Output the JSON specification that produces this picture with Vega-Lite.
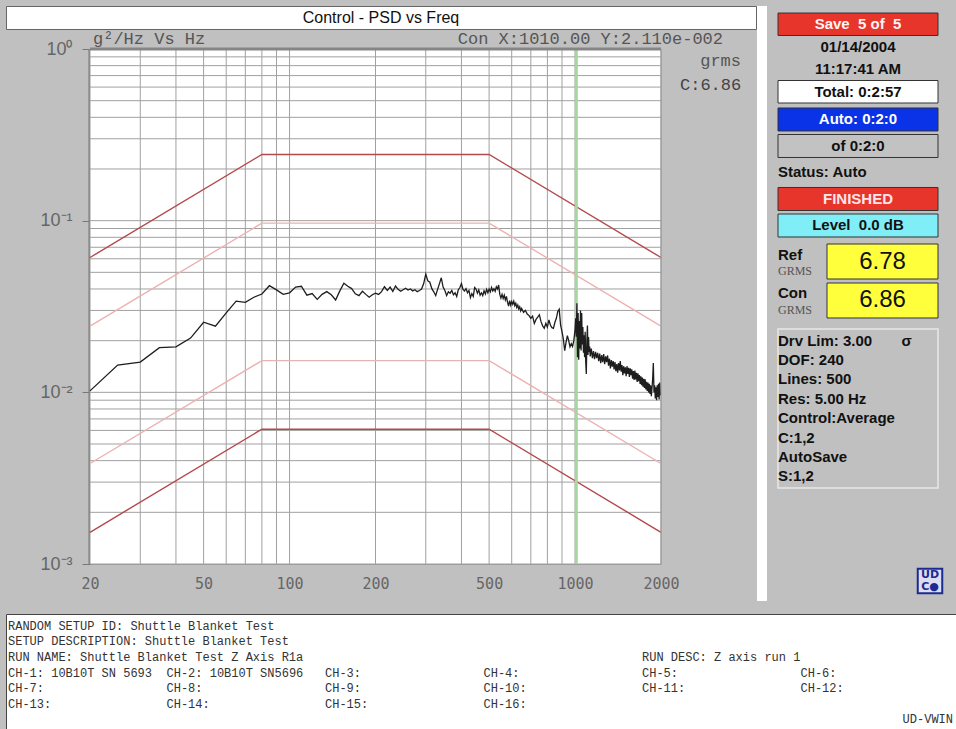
{
  "$schema": "https://vega.github.io/schema/vega-lite/v6.json",
  "background": "#c0c0c0",
  "padding": {"left": 5, "top": 5, "right": 0, "bottom": 0},
  "config": {"view": {"stroke": null}, "font": "Liberation Sans", "concat": {"spacing": 0}},
  "spacing": 12,
  "vconcat": [
    {
      "spacing": 0,
      "hconcat": [
        {
          "spacing": 0,
          "vconcat": [
            {
              "width": 750, "height": 23,
              "view": {"fill": "white", "stroke": "#666666", "strokeWidth": 1},
              "data": {"values": [{"title": "Control - PSD vs Freq"}]},
              "mark": {"type": "text", "font": "Liberation Sans", "fontSize": 16, "color": "#111111"},
              "encoding": {"text": {"field": "title"}}
            },
            {
              "width": 655, "height": 515,
              "view": {"stroke": null},
              "resolve": {"scale": {"color": "independent"}},
              "layer": [
                {
                  "data": {"values": [{}]},
                  "mark": {"type": "rect", "fill": "white"},
                  "encoding": {
                    "x": {"datum": 20}, "x2": {"datum": 2000},
                    "y": {"datum": 0.001}, "y2": {"datum": 1}
                  }
                },
                {
                  "data": {"values": [{"f":20},{"f":30},{"f":40},{"f":50},{"f":60},{"f":70},{"f":80},{"f":90},{"f":100},{"f":200},{"f":300},{"f":400},{"f":500},{"f":600},{"f":700},{"f":800},{"f":900},{"f":1000},{"f":2000}]},
                  "mark": {"type": "rule", "color": "#a0a0a0", "strokeWidth": 1},
                  "encoding": {"x": {"field": "f", "type": "quantitative"}}
                },
                {
                  "data": {"values": [{"psd":0.001},{"psd":0.002},{"psd":0.003},{"psd":0.004},{"psd":0.005},{"psd":0.006},{"psd":0.007},{"psd":0.008},{"psd":0.009},{"psd":0.01},{"psd":0.02},{"psd":0.03},{"psd":0.04},{"psd":0.05},{"psd":0.06},{"psd":0.07},{"psd":0.08},{"psd":0.09},{"psd":0.1},{"psd":0.2},{"psd":0.3},{"psd":0.4},{"psd":0.5},{"psd":0.6},{"psd":0.7},{"psd":0.8},{"psd":0.9}]},
                  "mark": {"type": "rule", "color": "#a0a0a0", "strokeWidth": 1},
                  "encoding": {"y": {"field": "psd", "type": "quantitative"}, "x": {"datum": 20}, "x2": {"datum": 2000}}
                },
                {
                  "data": {"values": [
                    {"limit": "abort high", "f": 20, "psd": 0.0610}, {"limit": "abort high", "f": 80, "psd": 0.243}, {"limit": "abort high", "f": 500, "psd": 0.243}, {"limit": "abort high", "f": 2000, "psd": 0.0610},
                    {"limit": "alarm high", "f": 20, "psd": 0.0243}, {"limit": "alarm high", "f": 80, "psd": 0.0967}, {"limit": "alarm high", "f": 500, "psd": 0.0967}, {"limit": "alarm high", "f": 2000, "psd": 0.0243},
                    {"limit": "alarm low", "f": 20, "psd": 0.00385}, {"limit": "alarm low", "f": 80, "psd": 0.0153}, {"limit": "alarm low", "f": 500, "psd": 0.0153}, {"limit": "alarm low", "f": 2000, "psd": 0.00385},
                    {"limit": "abort low", "f": 20, "psd": 0.00153}, {"limit": "abort low", "f": 80, "psd": 0.0061}, {"limit": "abort low", "f": 500, "psd": 0.0061}, {"limit": "abort low", "f": 2000, "psd": 0.00153}
                  ]},
                  "mark": {"type": "line", "strokeWidth": 1.4},
                  "encoding": {
                    "x": {
                      "field": "f", "type": "quantitative",
                      "scale": {"type": "log", "domain": [20, 2000], "range": [84, 655], "nice": false},
                      "axis": {
                        "title": null,
                        "values": [20, 50, 100, 200, 500, 1000, 2000],
                        "labelExpr": "'' + datum.value",
                        "grid": false,
                        "domain": true, "domainColor": "#9a9a9a", "domainWidth": 1,
                        "ticks": false,
                        "labelFont": "DejaVu Sans Mono", "labelFontSize": 15, "labelColor": "#666666",
                        "labelPadding": 12, "labelOverlap": false, "labelFlush": false
                      }
                    },
                    "y": {
                      "field": "psd", "type": "quantitative",
                      "scale": {"type": "log", "domain": [0.001, 1], "nice": false},
                      "axis": {
                        "title": null,
                        "values": [0.001, 0.01, 0.1, 1],
                        "labelExpr": "datum.value == 1 ? '10⁰' : datum.value == 0.1 ? '10⁻¹' : datum.value == 0.01 ? '10⁻²' : '10⁻³'",
                        "grid": false,
                        "offset": -84,
                        "domain": true, "domainColor": "#777777", "domainWidth": 4,
                        "ticks": true, "tickSize": 8, "tickColor": "#777777",
                        "labelFont": "Liberation Sans", "labelFontSize": 18, "labelColor": "#666666",
                        "labelPadding": 10, "labelOverlap": false,
                        "minExtent": 0, "maxExtent": 84
                      }
                    },
                    "color": {
                      "field": "limit", "type": "nominal",
                      "scale": {"domain": ["abort high", "abort low", "alarm high", "alarm low"], "range": ["#b5484a", "#b5484a", "#e9b3b3", "#e9b3b3"]},
                      "legend": null
                    }
                  }
                },
                {
                  "data": {"values": [{"f": 1010}]},
                  "mark": {"type": "rule", "color": "#a6d79e", "strokeWidth": 3},
                  "encoding": {"x": {"field": "f", "type": "quantitative"}}
                },
                {
                  "data": {"values": [
                    {"f":20,"psd":0.0102},{"f":25,"psd":0.0144},{"f":30,"psd":0.0150},{"f":35,"psd":0.0182},{"f":40,"psd":0.0184},{"f":45,"psd":0.0207},{"f":50,"psd":0.0256},{"f":55,"psd":0.0243},{"f":60,"psd":0.0290},{"f":65,"psd":0.0340},{"f":70,"psd":0.0334},{"f":75,"psd":0.0358},{"f":80,"psd":0.0374},{"f":85,"psd":0.0418},{"f":90,"psd":0.0395},{"f":95,"psd":0.0372},{"f":100,"psd":0.0380},
                    {"f":105,"psd":0.0410},{"f":110,"psd":0.0415},{"f":115,"psd":0.0368},{"f":120,"psd":0.0376},{"f":125,"psd":0.0348},{"f":130,"psd":0.0372},{"f":135,"psd":0.0386},{"f":140,"psd":0.0370},{"f":145,"psd":0.0345},{"f":150,"psd":0.0390},{"f":155,"psd":0.0432},{"f":160,"psd":0.0415},{"f":165,"psd":0.0402},{"f":170,"psd":0.0375},{"f":175,"psd":0.0366},{"f":180,"psd":0.0388},{"f":185,"psd":0.0372},{"f":190,"psd":0.0358},{"f":195,"psd":0.0370},{"f":200,"psd":0.0378},
                    {"f":205,"psd":0.0372},{"f":210,"psd":0.0386},{"f":215,"psd":0.0412},{"f":220,"psd":0.0392},{"f":225,"psd":0.0410},{"f":230,"psd":0.0387},{"f":235,"psd":0.0416},{"f":240,"psd":0.0398},{"f":245,"psd":0.0388},{"f":250,"psd":0.0396},{"f":255,"psd":0.0404},{"f":260,"psd":0.0394},{"f":265,"psd":0.0400},{"f":270,"psd":0.0390},{"f":275,"psd":0.0396},{"f":280,"psd":0.0386},{"f":285,"psd":0.0392},{"f":290,"psd":0.0400},{"f":295,"psd":0.0430},{"f":300,"psd":0.0488},
                    {"f":305,"psd":0.0446},{"f":310,"psd":0.0438},{"f":315,"psd":0.0402},{"f":320,"psd":0.0385},{"f":325,"psd":0.0366},{"f":330,"psd":0.0398},{"f":335,"psd":0.0430},{"f":340,"psd":0.0465},{"f":345,"psd":0.0410},{"f":350,"psd":0.0392},{"f":355,"psd":0.0366},{"f":360,"psd":0.0385},{"f":365,"psd":0.0378},{"f":370,"psd":0.0392},{"f":375,"psd":0.0370},{"f":380,"psd":0.0380},{"f":385,"psd":0.0362},{"f":390,"psd":0.0396},{"f":395,"psd":0.0408},{"f":400,"psd":0.0430},
                    {"f":405,"psd":0.0398},{"f":410,"psd":0.0390},{"f":415,"psd":0.0402},{"f":420,"psd":0.0380},{"f":425,"psd":0.0392},{"f":430,"psd":0.0356},{"f":435,"psd":0.0376},{"f":440,"psd":0.0362},{"f":445,"psd":0.0408},{"f":450,"psd":0.0400},{"f":455,"psd":0.0378},{"f":460,"psd":0.0395},{"f":465,"psd":0.0368},{"f":470,"psd":0.0380},{"f":475,"psd":0.0366},{"f":480,"psd":0.0390},{"f":485,"psd":0.0374},{"f":490,"psd":0.0398},{"f":495,"psd":0.0380},{"f":500,"psd":0.0400},
                    {"f":505,"psd":0.0385},{"f":510,"psd":0.0408},{"f":515,"psd":0.0390},{"f":520,"psd":0.0402},{"f":525,"psd":0.0388},{"f":530,"psd":0.0412},{"f":535,"psd":0.0400},{"f":540,"psd":0.0422},{"f":545,"psd":0.0372},{"f":550,"psd":0.0354},{"f":555,"psd":0.0372},{"f":560,"psd":0.0352},{"f":565,"psd":0.0368},{"f":570,"psd":0.0345},{"f":575,"psd":0.0362},{"f":580,"psd":0.0335},{"f":585,"psd":0.0318},{"f":590,"psd":0.0342},{"f":595,"psd":0.0322},{"f":600,"psd":0.0338},
                    {"f":605,"psd":0.0326},{"f":610,"psd":0.0340},{"f":615,"psd":0.0320},{"f":620,"psd":0.0330},{"f":625,"psd":0.0312},{"f":630,"psd":0.0322},{"f":635,"psd":0.0306},{"f":640,"psd":0.0315},{"f":645,"psd":0.0298},{"f":650,"psd":0.0308},
                    {"f":660,"psd":0.0292},{"f":670,"psd":0.0300},{"f":680,"psd":0.0286},{"f":690,"psd":0.0280},{"f":700,"psd":0.0270},{"f":710,"psd":0.0278},{"f":720,"psd":0.0252},{"f":730,"psd":0.0266},{"f":740,"psd":0.0274},{"f":750,"psd":0.0283},{"f":760,"psd":0.0258},{"f":770,"psd":0.0244},{"f":780,"psd":0.0236},{"f":790,"psd":0.0252},{"f":800,"psd":0.0240},{"f":810,"psd":0.0264},{"f":820,"psd":0.0246},{"f":830,"psd":0.0238},{"f":840,"psd":0.0236},{"f":850,"psd":0.0256},
                    {"f":860,"psd":0.0270},{"f":870,"psd":0.0296},{"f":880,"psd":0.0305},{"f":890,"psd":0.0246},{"f":900,"psd":0.0226},{"f":910,"psd":0.0204},{"f":920,"psd":0.0175},{"f":930,"psd":0.0196},{"f":940,"psd":0.0214},{"f":950,"psd":0.0200},{"f":960,"psd":0.0184},{"f":970,"psd":0.0192},{"f":980,"psd":0.0185},{"f":990,"psd":0.0200},{"f":1000,"psd":0.0232},
                    {"f":1005,"psd":0.0270},{"f":1010,"psd":0.0211},{"f":1015,"psd":0.0330},{"f":1020,"psd":0.0160},{"f":1025,"psd":0.0290},{"f":1030,"psd":0.0155},{"f":1035,"psd":0.0260},{"f":1040,"psd":0.0180},{"f":1045,"psd":0.0300},{"f":1050,"psd":0.0175},{"f":1055,"psd":0.0290},{"f":1060,"psd":0.0190},{"f":1065,"psd":0.0240},{"f":1070,"psd":0.0170},{"f":1075,"psd":0.0215},{"f":1080,"psd":0.0160},{"f":1085,"psd":0.0225},{"f":1090,"psd":0.0150},{"f":1095,"psd":0.0128},{"f":1100,"psd":0.0200},
                    {"f":1105,"psd":0.0245},{"f":1110,"psd":0.0165},{"f":1115,"psd":0.0210},{"f":1120,"psd":0.0172},{"f":1125,"psd":0.0185},{"f":1130,"psd":0.0162},
                    {"f":1140,"psd":0.0180},{"f":1150,"psd":0.0158},{"f":1160,"psd":0.0174},{"f":1170,"psd":0.0156},{"f":1180,"psd":0.0172},{"f":1190,"psd":0.0158},{"f":1200,"psd":0.0170},{"f":1210,"psd":0.0152},{"f":1220,"psd":0.0168},{"f":1230,"psd":0.0148},{"f":1240,"psd":0.0165},{"f":1250,"psd":0.0150},{"f":1260,"psd":0.0167},{"f":1270,"psd":0.0146},{"f":1280,"psd":0.0162},{"f":1290,"psd":0.0150},{"f":1300,"psd":0.0164},
                    {"f":1310,"psd":0.0143},{"f":1320,"psd":0.0157},{"f":1330,"psd":0.0138},{"f":1340,"psd":0.0154},{"f":1350,"psd":0.0141},{"f":1360,"psd":0.0152},{"f":1370,"psd":0.0136},{"f":1380,"psd":0.0150},{"f":1390,"psd":0.0133},{"f":1400,"psd":0.0146},{"f":1410,"psd":0.0130},{"f":1420,"psd":0.0148},{"f":1430,"psd":0.0134},{"f":1440,"psd":0.0152},{"f":1450,"psd":0.0132},{"f":1460,"psd":0.0144},{"f":1470,"psd":0.0126},{"f":1480,"psd":0.0142},{"f":1490,"psd":0.0129},{"f":1500,"psd":0.0140},
                    {"f":1510,"psd":0.0124},{"f":1520,"psd":0.0142},{"f":1530,"psd":0.0128},{"f":1540,"psd":0.0139},{"f":1550,"psd":0.0123},{"f":1560,"psd":0.0138},{"f":1570,"psd":0.0126},{"f":1580,"psd":0.0136},{"f":1590,"psd":0.0120},{"f":1600,"psd":0.0133},{"f":1610,"psd":0.0118},{"f":1620,"psd":0.0134},{"f":1630,"psd":0.0119},{"f":1640,"psd":0.0130},{"f":1650,"psd":0.0115},{"f":1660,"psd":0.0129},{"f":1670,"psd":0.0116},{"f":1680,"psd":0.0126},{"f":1690,"psd":0.0112},{"f":1700,"psd":0.0124},
                    {"f":1710,"psd":0.0110},{"f":1720,"psd":0.0122},{"f":1730,"psd":0.0108},{"f":1740,"psd":0.0120},{"f":1750,"psd":0.0106},{"f":1760,"psd":0.0119},{"f":1770,"psd":0.0104},{"f":1780,"psd":0.0115},{"f":1790,"psd":0.0102},{"f":1800,"psd":0.0114},{"f":1810,"psd":0.0100},{"f":1820,"psd":0.0112},{"f":1830,"psd":0.0098},{"f":1840,"psd":0.0110},{"f":1850,"psd":0.0095},{"f":1860,"psd":0.0106},{"f":1870,"psd":0.0120},{"f":1880,"psd":0.0148},{"f":1890,"psd":0.0100},{"f":1900,"psd":0.0110},
                    {"f":1910,"psd":0.0092},{"f":1920,"psd":0.0107},{"f":1930,"psd":0.0090},{"f":1940,"psd":0.0110},{"f":1950,"psd":0.0094},{"f":1960,"psd":0.0112},{"f":1970,"psd":0.0091},{"f":1980,"psd":0.0114},{"f":1990,"psd":0.0096}
                  ]},
                  "mark": {"type": "line", "strokeWidth": 1.3},
                  "encoding": {
                    "x": {"field": "f", "type": "quantitative"},
                    "y": {"field": "psd", "type": "quantitative"},
                    "color": {
                      "datum": "C:6.86", "type": "nominal",
                      "scale": {"range": ["#1e1e1e"]},
                      "legend": {
                        "title": "grms", "orient": "right", "offset": -5, "padding": 4,
                        "titleFont": "Liberation Mono", "titleFontSize": 17, "titleFontWeight": "normal", "titleColor": "#555555",
                        "titleAnchor": "end", "titlePadding": 6,
                        "labelFont": "Liberation Mono", "labelFontSize": 17, "labelColor": "#444444",
                        "symbolSize": 0, "symbolOpacity": 0, "symbolStrokeWidth": 0, "labelOffset": 0
                      }
                    }
                  }
                },
                {
                  "data": {"values": [{}]},
                  "mark": {"type": "rule", "color": "#858585", "strokeWidth": 3},
                  "encoding": {"y": {"datum": 1}, "x": {"datum": 20}, "x2": {"datum": 2000}}
                },
                {
                  "data": {"values": [{}]},
                  "mark": {"type": "rule", "color": "#9a9a9a", "strokeWidth": 1},
                  "encoding": {"x": {"datum": 2000}}
                },
                {
                  "data": {"values": [{"f": 20, "psd": 1, "label": "g²/Hz Vs Hz"}]},
                  "mark": {"type": "text", "align": "left", "baseline": "alphabetic", "dx": 3, "dy": -5, "font": "Liberation Mono", "fontSize": 17, "color": "#555555"},
                  "encoding": {
                    "x": {"field": "f", "type": "quantitative"},
                    "y": {"field": "psd", "type": "quantitative"},
                    "text": {"field": "label"}
                  }
                },
                {
                  "data": {"values": [{"f": 2000, "psd": 1, "label": "Con X:1010.00 Y:2.110e-002"}]},
                  "mark": {"type": "text", "align": "right", "baseline": "alphabetic", "dx": 62, "dy": -5, "font": "Liberation Mono", "fontSize": 17, "color": "#555555"},
                  "encoding": {
                    "x": {"field": "f", "type": "quantitative"},
                    "y": {"field": "psd", "type": "quantitative"},
                    "text": {"field": "label"}
                  }
                }
              ]
            }
          ]
        },
        {
          "spacing": 10,
          "hconcat": [
            {
              "width": 10, "height": 595,
              "view": {"fill": "white", "stroke": null},
              "data": {"values": [{}]},
              "mark": {"type": "point", "opacity": 0},
              "encoding": {}
            },
            {
              "spacing": 0,
              "bounds": "flush",
              "vconcat": [
                {
                  "width": 160, "height": 97,
                  "data": {"values": [
                    {"item": "save", "kind": "save", "text": "Save\u00a0\u00a05 of\u00a0\u00a05"},
                    {"item": "date", "kind": "info", "text": "01/14/2004"},
                    {"item": "time", "kind": "info", "text": "11:17:41 AM"},
                    {"item": "total", "kind": "total", "text": "Total: 0:2:57"}
                  ]},
                  "encoding": {"y": {"field": "item", "type": "nominal", "axis": null, "scale": {"type": "band", "domain": ["save", "date", "time", "total"], "paddingInner": 0, "paddingOuter": 0.156, "align": 1}}},
                  "layer": [
                    {
                      "transform": [{"filter": "datum.kind != 'info'"}],
                      "mark": {"type": "rect", "stroke": "#333333", "strokeWidth": 1},
                      "encoding": {"fill": {"field": "kind", "type": "nominal", "scale": {"domain": ["save", "total", "auto", "elapsed", "state", "level"], "range": ["#e8352b", "#ffffff", "#0a32e6", "#c2c2c2", "#e8352b", "#80eef6"]}, "legend": null}}
                    },
                    {
                      "transform": [{"filter": "datum.kind == 'save'"}],
                      "mark": {"type": "text", "font": "Liberation Sans", "fontWeight": "bold", "fontSize": 15, "color": "#fff4f4"},
                      "encoding": {"text": {"field": "text"}}
                    },
                    {
                      "transform": [{"filter": "datum.kind != 'save'"}],
                      "mark": {"type": "text", "font": "Liberation Sans", "fontWeight": "bold", "fontSize": 15, "color": "#111111"},
                      "encoding": {"text": {"field": "text"}}
                    }
                  ]
                },
                {
                  "width": 160, "height": 134,
                  "data": {"values": [
                    {"item": "auto", "kind": "auto", "panel": "status", "text": "Auto: 0:2:0"},
                    {"item": "of", "kind": "elapsed", "panel": "status", "text": "\u00a0\u00a0\u00a0\u00a0\u00a0\u00a0of 0:2:0"},
                    {"item": "status", "kind": "caption", "panel": "status", "text": "Status: Auto"},
                    {"item": "finished", "kind": "state", "panel": "status", "text": "FINISHED"},
                    {"item": "level", "kind": "level", "panel": "status", "text": "Level\u00a0\u00a00.0 dB"}
                  ]},
                  "encoding": {"y": {"field": "item", "type": "nominal", "axis": null, "scale": {"type": "band", "domain": ["auto", "of", "status", "finished", "level"], "paddingInner": 0.132, "paddingOuter": 0.094, "align": 1}}},
                  "layer": [
                    {
                      "transform": [{"filter": "datum.kind != 'caption'"}],
                      "mark": {"type": "rect", "stroke": "#333333", "strokeWidth": 1},
                      "encoding": {"fill": {"field": "kind", "type": "nominal", "scale": {"domain": ["save", "total", "auto", "elapsed", "state", "level"], "range": ["#e8352b", "#ffffff", "#0a32e6", "#c2c2c2", "#e8352b", "#80eef6"]}, "legend": null}}
                    },
                    {
                      "transform": [{"filter": "datum.kind == 'auto'"}],
                      "mark": {"type": "text", "font": "Liberation Sans", "fontWeight": "bold", "fontSize": 15, "color": "#ffffff"},
                      "encoding": {"text": {"field": "text"}}
                    },
                    {
                      "transform": [{"filter": "datum.kind == 'state'"}],
                      "mark": {"type": "text", "font": "Liberation Sans", "fontWeight": "bold", "fontSize": 15, "color": "#ffe6e6"},
                      "encoding": {"text": {"field": "text"}}
                    },
                    {
                      "transform": [{"filter": "datum.kind == 'elapsed' || datum.kind == 'level'"}],
                      "mark": {"type": "text", "font": "Liberation Sans", "fontWeight": "bold", "fontSize": 15, "color": "#111111"},
                      "encoding": {"text": {"field": "text"}}
                    },
                    {
                      "transform": [{"filter": "datum.kind == 'caption'"}],
                      "mark": {"type": "text", "align": "left", "font": "Liberation Sans", "fontWeight": "bold", "fontSize": 15, "color": "#111111"},
                      "encoding": {
                        "x": {"field": "panel", "type": "nominal", "axis": null, "scale": {"type": "band", "paddingInner": 0, "paddingOuter": 0}, "bandPosition": 0},
                        "text": {"field": "text"}
                      }
                    }
                  ]
                },
                {
                  "width": 160, "height": 92,
                  "data": {"values": [
                    {"item": "ref", "name": "Ref", "unit": "GRMS", "grms": 6.78, "cell": "value", "panel": "label"},
                    {"item": "con", "name": "Con", "unit": "GRMS", "grms": 6.86, "cell": "value", "panel": "label"}
                  ]},
                  "resolve": {"scale": {"x": "independent"}},
                  "encoding": {"y": {"field": "item", "type": "nominal", "axis": null, "scale": {"type": "band", "domain": ["ref", "con"], "paddingInner": 0.1026, "paddingOuter": 0.231, "align": 0.389}}},
                  "layer": [
                    {
                      "mark": {"type": "rect", "fill": "#ffff3c", "stroke": "#333333", "strokeWidth": 1},
                      "encoding": {"x": {"field": "cell", "type": "nominal", "axis": null, "scale": {"type": "band", "paddingInner": 0, "paddingOuter": 0.2207, "align": 1}}}
                    },
                    {
                      "mark": {"type": "text", "font": "Liberation Sans", "fontSize": 24, "color": "#111111"},
                      "encoding": {
                        "x": {"field": "cell", "type": "nominal", "axis": null, "scale": {"type": "band", "paddingInner": 0, "paddingOuter": 0.2207, "align": 1}, "bandPosition": 0.5},
                        "text": {"field": "grms", "type": "quantitative", "format": ".2f"}
                      }
                    },
                    {
                      "mark": {"type": "text", "align": "left", "font": "Liberation Sans", "fontWeight": "bold", "fontSize": 15, "color": "#111111"},
                      "encoding": {
                        "x": {"field": "panel", "type": "nominal", "axis": null, "scale": {"type": "band", "paddingInner": 0, "paddingOuter": 0}, "bandPosition": 0},
                        "y": {"field": "item", "type": "nominal", "axis": null, "bandPosition": 0.3},
                        "text": {"field": "name"}
                      }
                    },
                    {
                      "mark": {"type": "text", "align": "left", "font": "Liberation Serif", "fontSize": 12, "color": "#555555"},
                      "encoding": {
                        "x": {"field": "panel", "type": "nominal", "axis": null, "scale": {"type": "band", "paddingInner": 0, "paddingOuter": 0}, "bandPosition": 0},
                        "y": {"field": "item", "type": "nominal", "axis": null, "bandPosition": 0.78},
                        "text": {"field": "unit"}
                      }
                    }
                  ]
                },
                {
                  "width": 160, "height": 159,
                  "view": {"stroke": "#e8e8e8", "strokeWidth": 1.5},
                  "data": {"values": [
                    {"panel": "info", "text": "Drv Lim: 3.00\u00a0\u00a0\u00a0\u00a0\u00a0\u00a0\u00a0σ"},
                    {"panel": "info", "text": "DOF: 240"},
                    {"panel": "info", "text": "Lines: 500"},
                    {"panel": "info", "text": "Res: 5.00 Hz"},
                    {"panel": "info", "text": "Control:Average"},
                    {"panel": "info", "text": "C:1,2"},
                    {"panel": "info", "text": "AutoSave"},
                    {"panel": "info", "text": "S:1,2"}
                  ]},
                  "mark": {"type": "text", "align": "left", "font": "Liberation Sans", "fontWeight": "bold", "fontSize": 15, "color": "#111111"},
                  "encoding": {
                    "x": {"field": "panel", "type": "nominal", "axis": null, "scale": {"type": "band", "paddingInner": 0, "paddingOuter": 0}, "bandPosition": 0},
                    "y": {"field": "text", "type": "nominal", "sort": null, "axis": null, "scale": {"type": "point", "padding": 0.6}},
                    "text": {"field": "text"}
                  }
                },
                {
                  "width": 160, "height": 113,
                  "data": {"values": [{"logo": "UDCO", "top": "UD", "bottom": "C●"}]},
                  "encoding": {
                    "x": {"field": "logo", "type": "nominal", "axis": null, "scale": {"type": "band", "paddingInner": 0, "paddingOuter": 1, "align": 1}, "bandPosition": 0.85},
                    "y": {"field": "logo", "type": "nominal", "axis": null, "scale": {"type": "band", "paddingInner": 0, "paddingOuter": 1, "align": 1}, "bandPosition": 0.47}
                  },
                  "layer": [
                    {"mark": {"type": "square", "size": 600, "filled": true, "color": "#dcdcf2", "stroke": "#1d2b8f", "strokeWidth": 2, "opacity": 1}},
                    {
                      "mark": {"type": "text", "font": "DejaVu Sans", "fontWeight": "bold", "fontSize": 11, "color": "#1d2b8f"},
                      "encoding": {"text": {"field": "top"}, "y": {"field": "logo", "type": "nominal", "axis": null, "bandPosition": 0.3}}
                    },
                    {
                      "mark": {"type": "text", "font": "DejaVu Sans", "fontWeight": "bold", "fontSize": 11, "color": "#1d2b8f"},
                      "encoding": {"text": {"field": "bottom"}, "y": {"field": "logo", "type": "nominal", "axis": null, "bandPosition": 0.63}}
                    }
                  ]
                }
              ]
            }
          ]
        }
      ]
    },
    {
      "width": 951, "height": 117,
      "view": {"fill": "white", "stroke": "#444444", "strokeWidth": 1},
      "data": {"values": [
        {"row": 1, "col": 1, "text": "RANDOM SETUP ID: Shuttle Blanket Test"},
        {"row": 2, "col": 1, "text": "SETUP DESCRIPTION: Shuttle Blanket Test"},
        {"row": 3, "col": 1, "text": "RUN NAME: Shuttle Blanket Test Z Axis R1a"},
        {"row": 3, "col": 5, "text": "RUN DESC: Z axis run 1"},
        {"row": 4, "col": 1, "text": "CH-1: 10B10T SN 5693"},
        {"row": 4, "col": 2, "text": "CH-2: 10B10T SN5696"},
        {"row": 4, "col": 3, "text": "CH-3:"},
        {"row": 4, "col": 4, "text": "CH-4:"},
        {"row": 4, "col": 5, "text": "CH-5:"},
        {"row": 4, "col": 6, "text": "CH-6:"},
        {"row": 5, "col": 1, "text": "CH-7:"},
        {"row": 5, "col": 2, "text": "CH-8:"},
        {"row": 5, "col": 3, "text": "CH-9:"},
        {"row": 5, "col": 4, "text": "CH-10:"},
        {"row": 5, "col": 5, "text": "CH-11:"},
        {"row": 5, "col": 6, "text": "CH-12:"},
        {"row": 6, "col": 1, "text": "CH-13:"},
        {"row": 6, "col": 2, "text": "CH-14:"},
        {"row": 6, "col": 3, "text": "CH-15:"},
        {"row": 6, "col": 4, "text": "CH-16:"},
        {"row": 7, "col": 6, "text": "UD-VWIN"}
      ]},
      "encoding": {
        "y": {"field": "row", "type": "ordinal", "axis": null, "scale": {"type": "point", "domain": [1, 2, 3, 4, 5, 6, 7], "padding": 0.75}},
        "text": {"field": "text"}
      },
      "layer": [
        {
          "transform": [{"filter": "datum.row < 7"}],
          "mark": {"type": "text", "align": "left", "dx": 2, "font": "Liberation Mono", "fontSize": 12, "color": "#333333"},
          "encoding": {"x": {"field": "col", "type": "ordinal", "axis": null, "scale": {"type": "band", "domain": [1, 2, 3, 4, 5, 6], "paddingInner": 0, "paddingOuter": 0}, "bandPosition": 0}}
        },
        {
          "transform": [{"filter": "datum.row == 7"}],
          "mark": {"type": "text", "align": "right", "dx": -4, "font": "Liberation Mono", "fontSize": 12, "color": "#333333"},
          "encoding": {"x": {"field": "col", "type": "ordinal", "axis": null, "bandPosition": 1}}
        }
      ]
    }
  ]
}
